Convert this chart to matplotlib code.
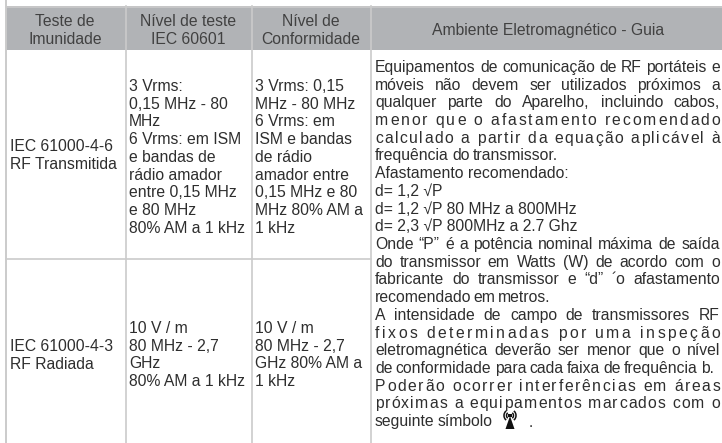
"""Tabela de imunidade eletromagnética (IEC 61000), redesenhada em matplotlib."""
import matplotlib
matplotlib.use("Agg")
import matplotlib.pyplot as plt
from matplotlib.patches import Arc, Polygon, Rectangle

W, H = 722, 443
DPI = 100
FONT = "Liberation Sans"
TEXT_COLOR = "#2e2e2e"
HEADER_TEXT = "#414141"
HEADER_COLOR = "#b1b3b6"
LINE_COLOR = "#cbcbcb"
SIZE = 11.3

# ── Conteúdo da tabela ────────────────────────────────────────────────────────
headers = [["Teste de", "Imunidade"], ["Nível de teste", "IEC 60601"],
           ["Nível de", "Conformidade"], ["Ambiente Eletromagnético - Guia"]]
row1_test = ["IEC 61000-4-6", "RF Transmitida"]
row1_level = ["3 Vrms:", "0,15 MHz - 80", "MHz", "6 Vrms: em ISM", "e bandas de",
              "rádio amador", "entre 0,15 MHz", "e 80 MHz", "80% AM a 1 kHz"]
row1_conf = ["3 Vrms: 0,15", "MHz - 80 MHz", "6 Vrms: em", "ISM e bandas", "de rádio",
             "amador entre", "0,15 MHz e 80", "MHz 80% AM a", "1 kHz"]
row2_test = ["IEC 61000-4-3", "RF Radiada"]
row2_level = ["10 V / m", "80 MHz - 2,7", "GHz", "80% AM a 1 kHz"]
row2_conf = ["10 V / m", "80 MHz - 2,7", "GHz 80% AM a", "1 kHz"]

guide_lines = [
    "Equipamentos de comunicação de RF portáteis e",
    "móveis não devem ser utilizados próximos a",
    "qualquer parte do Aparelho, incluindo cabos,",
    "menor que o afastamento recomendado",
    "calculado a partir da equação aplicável à",
    "frequência do transmissor.",
    "Afastamento recomendado:",
    "d= 1,2 √P",
    "d= 1,2 √P 80 MHz a 800MHz",
    "d= 2,3 √P 800MHz a 2.7 Ghz",
    "Onde “P” é a potência nominal máxima de saída",
    "do transmissor em Watts (W) de acordo com o",
    "fabricante do transmissor e “d” ´o afastamento",
    "recomendado em metros.",
    "A intensidade de campo de transmissores RF",
    "fixos determinadas por uma inspeção",
    "eletromagnética deverão ser menor que o nível",
    "de conformidade para cada faixa de frequência b.",
    "Poderão ocorrer interferências em áreas",
    "próximas a equipamentos marcados com o",
    "seguinte símbolo",
]

# Linhas que não ocupam a coluna toda, e linhas com letras espaçadas
LINE_ENDS = {5: 558, 6: None, 7: None, 8: None, 9: None, 13: 550, 17: 714, 20: 493}
LETTER_SPACED = {3, 4, 15, 18, 19}
FULL_END = 720

fig = plt.figure(figsize=(W / DPI, H / DPI), dpi=DPI)
ax = fig.add_axes([0, 0, 1, 1])
ax.set_xlim(0, W)
ax.set_ylim(H, 0)
ax.axis("off")


def put(x, y, s, ha="left", color=TEXT_COLOR):
    # y = meio da altura-x; o texto assenta na linha de base logo abaixo
    return ax.text(x, y + 5.8, s, ha=ha, va="baseline", fontsize=SIZE,
                   family=[FONT, "DejaVu Sans"], color=color)


def put_block(x, y0, lines, step=17.75):
    for i, s in enumerate(lines):
        put(x, y0 + i * step, s)


def put_fitted(x0, x1, y, s, by_char=False):
    """Escreve a linha por partes para terminar em x1 (justificado)."""
    if x1 is None:
        put(x0, y, s)
        return
    renderer = fig.canvas.get_renderer()
    parts = list(s) if by_char else s.split(" ")
    items = [put(x0, y, p) for p in parts]
    if by_char:
        # o espaço sozinho não tem extensão medida; usa a largura natural
        widths = [t.get_window_extent(renderer).width if p != " " else 4.4
                  for t, p in zip(items, parts)]
    else:
        widths = [t.get_window_extent(renderer).width for t in items]
    gap = (x1 - x0 - sum(widths)) / max(len(parts) - 1, 1)
    x = x0
    for t, w in zip(items, widths):
        t.set_x(x)
        x += w + gap


def draw_antenna(cx, top):
    """Símbolo de radiação não ionizante."""
    ax.add_patch(Polygon([(cx, top + 4), (cx - 4.5, top + 17), (cx + 4.5, top + 17)],
                         closed=True, color="#111111", lw=0))
    ax.add_patch(Rectangle((cx - 1.8, top + 2), 3.6, 3, color="#111111", lw=0))
    for r in (7, 12):
        for theta1, theta2 in ((130, 230), (-50, 50)):
            ax.add_patch(Arc((cx, top + 3.5), r, r, theta1=theta1, theta2=theta2,
                             color="#111111", lw=1.1))


# ── Fundo e grade ─────────────────────────────────────────────────────────────
ax.add_patch(Rectangle((6, 6), W - 6, 44, color=HEADER_COLOR, lw=0))
ax.plot([6, W], [6.5, 6.5], color=LINE_COLOR, lw=1.2)
ax.plot([6, 371], [258.5, 258.5], color=LINE_COLOR, lw=1.2)
ax.plot([6, 6], [0, H], color=LINE_COLOR, lw=1.4)
for x in (125.5, 252, 371):
    ax.plot([x, x], [6, H], color=LINE_COLOR, lw=1.2)

# ── Cabeçalho ─────────────────────────────────────────────────────────────────
header_centers = [65, 188, 311, 548]
for cx, lines in zip(header_centers, headers):
    y0 = 29 if len(lines) == 1 else 20
    for i, s in enumerate(lines):
        put(cx, y0 + i * 18, s, ha="center", color=HEADER_TEXT)

# ── Corpo ─────────────────────────────────────────────────────────────────────
put_block(10, 145, row1_test)
put_block(129, 85, row1_level)
put_block(255, 85, row1_conf)
put_block(10, 345, row2_test)
put_block(129, 327, row2_level)
put_block(255, 327, row2_conf)

for i, line in enumerate(guide_lines):
    put_fitted(375, LINE_ENDS.get(i, FULL_END), 66 + i * 17.72, line, i in LETTER_SPACED)

draw_antenna(510, 412)
put(529, 421, ".")

fig.savefig("out.png", dpi=DPI)
